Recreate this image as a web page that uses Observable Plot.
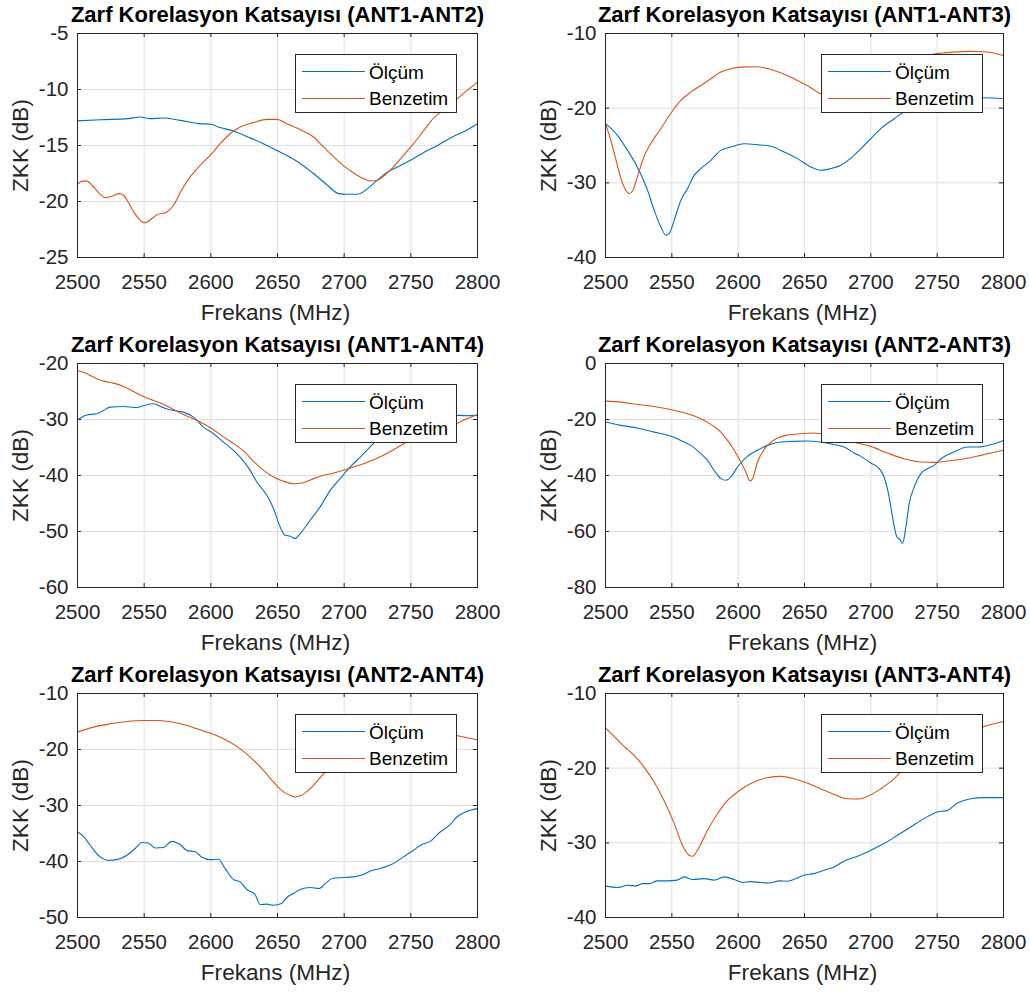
<!DOCTYPE html>
<html><head><meta charset="utf-8">
<script src="https://cdn.jsdelivr.net/npm/d3@7"></script>
<script src="https://cdn.jsdelivr.net/npm/@observablehq/plot@0.6"></script>
<style>
body{margin:0;background:#fff;}
#root{position:relative;width:1030px;height:992px;font-family:"Liberation Sans",Arial,Helvetica,sans-serif;}
.panel{position:absolute;}
.legend{position:absolute;background:#fff;border:1px solid #262626;box-sizing:border-box;width:162px;height:59px;}
.legend .ln{position:absolute;left:6px;width:63px;height:1px;}
.legend .tx{position:absolute;left:73px;font-size:19px;color:#000;line-height:1;transform:translateY(-50%);white-space:nowrap;}
</style></head>
<body><div id="root"></div>
<script>
// ---------- data ----------
const xTicks = [2500, 2550, 2600, 2650, 2700, 2750, 2800];
const seriesNames = ["Ölçüm", "Benzetim"];
const titles = [
  "Zarf Korelasyon Katsayısı (ANT1-ANT2)",
  "Zarf Korelasyon Katsayısı (ANT1-ANT3)",
  "Zarf Korelasyon Katsayısı (ANT1-ANT4)",
  "Zarf Korelasyon Katsayısı (ANT2-ANT3)",
  "Zarf Korelasyon Katsayısı (ANT2-ANT4)",
  "Zarf Korelasyon Katsayısı (ANT3-ANT4)"
];
const yTicks12 = [-25, -20, -15, -10, -5];
const yTicks13 = [-40, -30, -20, -10];
const yTicks14 = [-60, -50, -40, -30, -20];
const yTicks23 = [-80, -60, -40, -20, 0];
const yTicks24 = [-50, -40, -30, -20, -10];
const yTicks34 = [-40, -30, -20, -10];

// ANT1-ANT2
const f12m = [2500,2517,2538,2547,2554,2564,2577,2592,2600,2607,2617,2627,2637,2647,2657,2667,2677,2687,2696,2702,2710,2716,2722,2732,2742,2750,2760,2770,2780,2790,2800];
const z12m = [-12.8,-12.7,-12.6,-12.46,-12.6,-12.55,-12.76,-13.05,-13.1,-13.4,-13.7,-14.2,-14.7,-15.3,-15.9,-16.6,-17.5,-18.5,-19.3,-19.35,-19.35,-19.0,-18.4,-17.4,-16.8,-16.3,-15.6,-15.0,-14.3,-13.75,-13.05];
const f12s = [2500,2503,2506.5,2511,2516,2521,2526,2531,2534.5,2538,2543,2547,2550,2553,2559.5,2567,2572,2578,2584.5,2592,2599.5,2607,2614.5,2622,2632,2642,2649.5,2657,2667,2677,2684.5,2692,2699.5,2707,2714.5,2719.5,2724.5,2729.5,2737,2744.5,2752,2759.5,2767,2774.5,2782,2792,2800];
const z12s = [-18.46,-18.2,-18.16,-18.55,-19.23,-19.65,-19.53,-19.3,-19.44,-20.04,-21.08,-21.67,-21.9,-21.76,-21.2,-20.93,-20.33,-19.0,-17.8,-16.77,-15.88,-14.84,-13.95,-13.35,-12.96,-12.67,-12.67,-13.05,-13.59,-14.24,-15.13,-16.0,-16.8,-17.45,-17.96,-18.17,-18.13,-17.75,-16.9,-15.88,-14.84,-13.7,-12.55,-11.85,-11.1,-10.1,-9.34];

// ANT1-ANT3
const f13m = [2500,2509,2516.6,2524,2531.7,2536.7,2541.7,2545.5,2548,2551.8,2556.8,2561.8,2566.8,2571.9,2579.4,2586.9,2594.5,2604.5,2614.6,2624.6,2634.7,2644.7,2654.8,2662.3,2669.8,2677.4,2687.4,2697.5,2707.5,2717.6,2725,2740,2755,2770,2785,2800];
const z13m = [-22.08,-23.64,-25.65,-27.88,-31.0,-33.67,-35.9,-37.0,-36.8,-35.0,-32.33,-30.78,-29.0,-28.1,-26.99,-25.65,-25.2,-24.76,-24.89,-25.11,-25.87,-26.76,-27.88,-28.32,-28.1,-27.65,-26.32,-24.53,-22.75,-21.41,-20.5,-19.6,-19.0,-18.7,-18.6,-18.74];
const f13s = [2500,2504,2508,2511.6,2515.3,2517.8,2520.4,2524,2529,2534,2541.7,2549,2556.8,2564.3,2571.9,2579.4,2586.9,2594.5,2602,2612,2619.6,2627,2637,2647,2654.8,2662,2680,2695,2710,2725,2740,2750,2762,2775,2785,2800];
const z13s = [-22.08,-24.3,-27.0,-29.4,-31.0,-31.44,-31.09,-29.2,-26.5,-24.76,-22.75,-20.74,-18.96,-17.85,-16.96,-16.06,-15.17,-14.73,-14.5,-14.45,-14.59,-14.95,-15.62,-16.5,-17.27,-18.07,-18.6,-17.5,-15.8,-14.2,-13.1,-12.7,-12.5,-12.4,-12.45,-12.94];

// ANT1-ANT4
const f14m = [2500,2507,2514.5,2519.5,2524.5,2534.5,2544.5,2549.5,2557,2564.5,2572,2579.5,2587,2594.5,2602,2609.5,2617,2623,2629.5,2634.5,2642,2647,2652,2655.8,2659.5,2663,2667,2674.5,2682,2689.5,2697,2704.5,2712,2719.5,2724.5,2740,2760,2775,2787,2792,2800];
const z14m = [-30.04,-29.2,-28.97,-28.38,-27.79,-27.67,-27.85,-27.55,-27.19,-27.9,-28.38,-28.68,-29.57,-31.35,-32.54,-34.03,-35.51,-37.0,-39.08,-41.16,-43.54,-45.9,-49.2,-50.67,-50.85,-51.26,-50.37,-48.0,-45.6,-42.65,-40.56,-38.48,-36.7,-34.9,-33.7,-31.5,-30.0,-29.4,-29.27,-29.33,-29.27];
const f14s = [2500,2504.5,2512,2519.5,2527,2534.5,2542,2549.5,2557,2564.5,2572,2579.5,2587,2594.5,2602,2609.5,2617,2624.5,2632,2639.5,2647,2654.5,2662,2669.5,2677,2684.5,2692,2699.5,2707,2714.5,2722,2729.5,2737,2744.5,2752,2765,2775,2784,2792,2800];
const z14s = [-21.25,-21.55,-22.44,-23.15,-23.5,-24.1,-24.99,-25.88,-26.6,-27.31,-28.2,-29.1,-29.87,-30.76,-31.83,-33.1,-34.3,-35.6,-37.47,-39.08,-40.27,-41.04,-41.46,-41.28,-40.56,-39.97,-39.55,-39.08,-38.48,-37.89,-37.18,-36.4,-35.39,-34.32,-33.43,-32.3,-31.5,-30.76,-29.87,-29.1];

// ANT2-ANT3
const f23m = [2500,2511.6,2524,2536.7,2549,2556.8,2564.3,2571.9,2576.9,2581.9,2587,2590.7,2594.5,2599.5,2607,2614.6,2622,2632,2642,2652,2662,2672,2679.9,2687.4,2692.5,2700,2706.3,2710,2713.8,2716.3,2719.6,2722,2723.9,2726.4,2728.9,2732.7,2737.7,2742.7,2747.7,2752.8,2762.8,2772.9,2780,2793,2800];
const z23m = [-20.9,-22.1,-23.06,-24.5,-25.9,-27.46,-29.24,-32.2,-34.6,-38.2,-41.1,-41.7,-40.5,-36.97,-33.17,-31.0,-29.24,-28.05,-27.8,-27.7,-28.05,-28.9,-29.84,-31.98,-33.17,-35.54,-37.56,-40.53,-47.67,-54.8,-61.93,-62.9,-64.3,-58.4,-50.05,-44.1,-39.35,-37.56,-36.37,-34.0,-31.6,-29.84,-29.84,-28.65,-27.46];
const f23s = [2500,2511.6,2524,2536.7,2549,2561.8,2571.9,2579.4,2587,2592,2597,2602,2605.8,2609,2610.8,2614.6,2618.3,2623.4,2629.6,2637,2647,2657,2662,2675,2688,2700,2712.6,2725,2737.7,2747.7,2757.8,2770.4,2783,2800];
const z23s = [-13.43,-13.79,-14.62,-15.33,-16.4,-17.95,-19.73,-21.75,-24.49,-27.46,-31.0,-35.18,-38.75,-41.96,-41.13,-35.18,-31.6,-28.65,-26.63,-25.56,-25.08,-24.84,-25.08,-26.4,-28.2,-29.6,-31.98,-34.0,-35.18,-35.3,-34.83,-34.0,-32.8,-31.0];

// ANT2-ANT4
const f24m = [2500,2504.5,2509.5,2517,2523,2529.5,2537,2544.5,2548,2553,2558,2564.5,2570.75,2575.75,2583,2588,2593,2599.5,2605.75,2610.75,2617,2622,2627,2633,2637,2642,2647,2653,2657,2662,2667,2674.5,2681,2686,2691,2699.5,2707,2714.5,2719.5,2727,2735.75,2744.5,2752,2758,2764.5,2772,2779.5,2784.5,2791,2800];
const z24m = [-34.73,-35.5,-37.1,-39.18,-39.78,-39.66,-38.89,-37.4,-36.6,-36.7,-37.58,-37.5,-36.4,-36.8,-38.1,-38.2,-39.18,-39.66,-39.6,-41.26,-43.22,-43.64,-45.0,-45.84,-47.68,-47.62,-47.8,-47.5,-46.43,-45.7,-45.0,-44.65,-44.83,-43.9,-43.05,-42.87,-42.75,-42.33,-41.68,-41.26,-40.5,-39.18,-37.99,-37.0,-36.4,-34.73,-33.42,-32.05,-31.16,-30.56];
const f24s = [2500,2512,2524.5,2537,2549.5,2559.5,2569.5,2579.5,2589.5,2599.5,2609.5,2619.5,2629.5,2639.5,2647,2653,2659.5,2663,2668,2674.5,2682,2688,2700,2720,2740,2760,2775,2784,2792,2800];
const z24s = [-16.9,-16.0,-15.41,-14.99,-14.81,-14.81,-15.05,-15.53,-16.3,-17.07,-18.08,-19.45,-21.35,-23.73,-25.8,-27.3,-28.19,-28.48,-28.19,-27.0,-25.04,-23.43,-21.3,-19.2,-17.9,-17.3,-17.2,-17.49,-17.9,-18.26];

// ANT3-ANT4
const f34m = [2500,2509,2516.6,2523,2528,2533,2539,2546.7,2554,2559.3,2565.6,2574.4,2582,2589.5,2597,2603.5,2609.5,2617,2623.3,2631,2637,2643.5,2649.5,2657,2664.8,2672.4,2681,2690,2700,2710,2720,2730,2740,2750,2757.8,2765.3,2775.4,2785.4,2800];
const z34m = [-35.8,-35.99,-35.68,-35.77,-35.46,-35.46,-35.1,-35.1,-35.0,-34.56,-34.92,-34.79,-35.0,-34.56,-34.92,-35.32,-35.19,-35.32,-35.37,-35.1,-35.14,-34.79,-34.34,-34.12,-33.67,-33.23,-32.34,-31.8,-31.0,-30.1,-28.99,-27.88,-26.76,-25.87,-25.65,-24.67,-24.09,-23.95,-23.95];
const f34s = [2500,2506.5,2514,2521.6,2529,2536.7,2544,2551.8,2558,2563,2565.6,2569.3,2576.9,2584.4,2592,2599.5,2607,2614.6,2622,2632,2642,2652,2662,2672,2682,2690,2697.5,2707.5,2717.6,2722.6,2735,2750,2765,2784,2793,2800];
const z34s = [-14.6,-15.75,-17.09,-18.29,-19.85,-21.86,-24.3,-27.43,-30.33,-31.67,-31.8,-31.0,-28.32,-26.1,-24.3,-23.2,-22.3,-21.64,-21.28,-21.1,-21.41,-22.0,-22.75,-23.5,-24.09,-24.13,-23.78,-22.75,-21.41,-20.5,-18.8,-17.0,-15.7,-14.5,-14.06,-13.75];

// ---------- layout ----------
const BLUE = "#0072BD", ORANGE = "#D95319", AX = "#262626", GRID = "#dfdfdf";
const FONT = '"Liberation Sans", Arial, Helvetica, sans-serif';

const panels = [
  {title: titles[0], yDomain: [-25, -5], yTicks: yTicks12, fm: f12m, zm: z12m, fs: f12s, zs: z12s, col: 0, row: 0},
  {title: titles[1], yDomain: [-40, -10], yTicks: yTicks13, fm: f13m, zm: z13m, fs: f13s, zs: z13s, col: 1, row: 0},
  {title: titles[2], yDomain: [-60, -20], yTicks: yTicks14, fm: f14m, zm: z14m, fs: f14s, zs: z14s, col: 0, row: 1},
  {title: titles[3], yDomain: [-80, 0], yTicks: yTicks23, fm: f23m, zm: z23m, fs: f23s, zs: z23s, col: 1, row: 1},
  {title: titles[4], yDomain: [-50, -10], yTicks: yTicks24, fm: f24m, zm: z24m, fs: f24s, zs: z24s, col: 0, row: 2},
  {title: titles[5], yDomain: [-40, -10], yTicks: yTicks34, fm: f34m, zm: z34m, fs: f34s, zs: z34s, col: 1, row: 2}
];

const root = document.getElementById("root");
const rowTop = [0, 330, 660];
const rowH = [330, 330, 332];

for (const p of panels) {
  const h = rowH[p.row];
  const ml = p.col === 0 ? 77 : 90;
  const mr = p.col === 0 ? 38 : 27;
  const mt = 33;
  const mb = h - 257;
  const plotW = 515 - ml - mr;
  const plotH = h - mt - mb;
  const [y0, y1] = p.yDomain;
  const ky = (y1 - y0) * 4 / plotH;
  const kx = 300 * 4 / plotW;
  const meas = p.fm.map((f, i) => ({f, v: p.zm[i]}));
  const sim = p.fs.map((f, i) => ({f, v: p.zs[i]}));

  const svg = Plot.plot({
    width: 515, height: h,
    marginLeft: ml, marginRight: mr, marginTop: mt, marginBottom: mb,
    style: {fontFamily: FONT, background: "transparent", overflow: "visible"},
    x: {domain: [2500, 2800]},
    y: {domain: p.yDomain},
    marks: [
      Plot.gridX(xTicks, {stroke: GRID, strokeOpacity: 1}),
      Plot.gridY(p.yTicks, {stroke: GRID, strokeOpacity: 1}),
      Plot.ruleX(xTicks, {x: d => d, y1: y0, y2: y0 + ky, stroke: AX}),
      Plot.ruleX(xTicks, {x: d => d, y1: y1, y2: y1 - ky, stroke: AX}),
      Plot.ruleY(p.yTicks, {y: d => d, x1: 2500, x2: 2500 + kx, stroke: AX}),
      Plot.ruleY(p.yTicks, {y: d => d, x1: 2800, x2: 2800 - kx, stroke: AX}),
      Plot.line(meas, {x: "f", y: "v", stroke: BLUE, strokeWidth: 1.1, curve: "monotone-x"}),
      Plot.line(sim, {x: "f", y: "v", stroke: ORANGE, strokeWidth: 1.1, curve: "monotone-x"}),
      Plot.frame({stroke: AX, strokeWidth: 1}),
      Plot.axisX(xTicks, {tickSize: 0, tickPadding: 17, fontSize: 20.5, fill: AX, tickFormat: d => String(d), label: null}),
      Plot.axisY(p.yTicks, {tickSize: 0, tickPadding: 9, fontSize: 20.5, fill: AX, tickFormat: d => String(d), label: null}),
      Plot.text([p.title], {text: d => d, frameAnchor: "top", dy: -18.5, dx: 0, fontSize: 22, fontWeight: "bold", fill: "#000", lineAnchor: "middle"}),
      Plot.text(["Frekans (MHz)"], {text: d => d, frameAnchor: "bottom", dy: 55, dx: -2, fontSize: 22.6, fill: AX, lineAnchor: "middle"}),
      Plot.text(["ZKK (dB)"], {text: d => d, frameAnchor: "left", dx: -57, rotate: -90, fontSize: 22.6, fill: AX, lineAnchor: "middle", textAnchor: "middle"})
    ]
  });
  const div = document.createElement("div");
  div.className = "panel";
  div.style.left = (p.col * 515) + "px";
  div.style.top = rowTop[p.row] + "px";
  div.appendChild(svg);
  root.appendChild(div);

  // legend
  const lg = document.createElement("div");
  lg.className = "legend";
  const plotRight = p.col * 515 + 515 - mr;
  lg.style.left = (plotRight - 182) + "px";
  lg.style.top = (rowTop[p.row] + mt + 21) + "px";
  [BLUE, ORANGE].forEach((c, i) => {
    const yy = i === 0 ? 16 : 42.5;
    const ln = document.createElement("div");
    ln.className = "ln";
    ln.style.top = yy + "px";
    ln.style.background = c;
    const tx = document.createElement("div");
    tx.className = "tx";
    tx.style.top = (yy + 0.5) + "px";
    tx.textContent = seriesNames[i];
    lg.appendChild(ln);
    lg.appendChild(tx);
  });
  root.appendChild(lg);
}
</script>
</body></html>
